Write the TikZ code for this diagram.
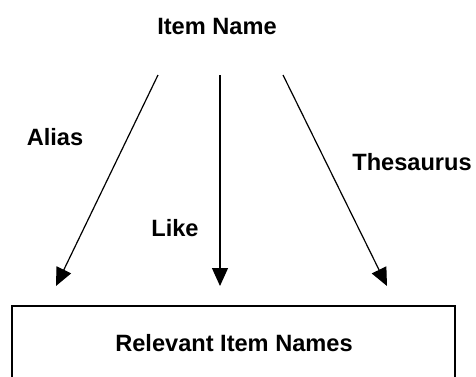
\documentclass[tikz,border=0pt]{standalone}
\usepackage{fontspec}
\setmainfont{Liberation Sans}
\usetikzlibrary{arrows.meta}
\begin{document}
\begin{tikzpicture}[x=0.5pt, y=-0.5pt, >={Triangle[length=9pt,width=8pt]}, every node/.style={font=\fontsize{11.8}{14}\selectfont\bfseries}]
\useasboundingbox (0,0) rectangle (476,376);
\node (item) at (217,26) {Item Name};
\node (alias) at (55,137) {Alias};
\node (like) at (175,228) {Like};
\node (thes) at (412,162) {Thesaurus};
\draw[line width=0.7pt] (12,306) rectangle (455,400);
\node (rel) at (234,343) {Relevant Item Names};
\coordinate (s1) at (158,75);
\coordinate (s2) at (220,75);
\coordinate (s3) at (283,75);
\coordinate (e1) at (56,286);
\coordinate (e2) at (220,286);
\coordinate (e3) at (387,286);
\draw[->, line width=0.6pt] (s1) -- (e1);
\draw[->, line width=0.6pt] (s2) -- (e2);
\draw[->, line width=0.6pt] (s3) -- (e3);
\end{tikzpicture}
\end{document}
